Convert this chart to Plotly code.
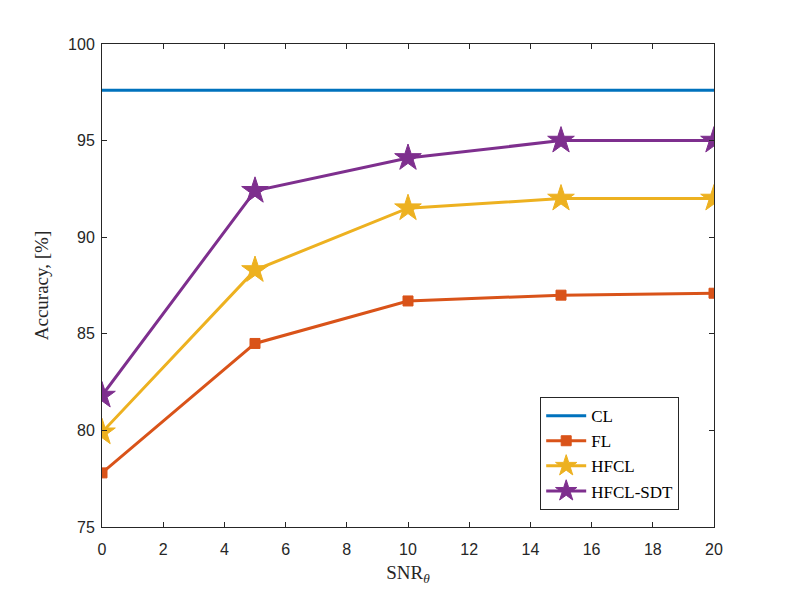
import plotly.graph_objects as go

snr = [0, 5, 10, 15, 20]
cl = [97.6, 97.6, 97.6, 97.6, 97.6]
fl = [77.8, 84.5, 86.7, 87.0, 87.1]
hfcl = [79.9, 88.3, 91.5, 92.0, 92.0]
hfcl_sdt = [81.8, 92.4, 94.1, 95.0, 95.0]

x_ticks = list(range(0, 21, 2))
y_ticks = [75, 80, 85, 90, 95, 100]

fig = go.Figure()
fig.add_trace(go.Scatter(x=snr, y=cl, mode="lines", name="CL",
                         line=dict(color="#0072BD", width=3)))
fig.add_trace(go.Scatter(x=snr, y=fl, mode="lines+markers", name="FL",
                         line=dict(color="#D95319", width=3),
                         marker=dict(symbol="square", size=10, color="#D95319",
                                     line=dict(color="#D95319", width=1))))
fig.add_trace(go.Scatter(x=snr, y=hfcl, mode="lines+markers", name="HFCL",
                         line=dict(color="#EDB120", width=3),
                         marker=dict(symbol="star", size=20, color="#EDB120",
                                     line=dict(color="#EDB120", width=1))))
fig.add_trace(go.Scatter(x=snr, y=hfcl_sdt, mode="lines+markers", name="HFCL-SDT",
                         line=dict(color="#7E2F8E", width=3),
                         marker=dict(symbol="star", size=20, color="#7E2F8E",
                                     line=dict(color="#7E2F8E", width=1))))

axis_common = dict(showgrid=False, zeroline=False, showline=True, linecolor="#262626",
                   linewidth=1, mirror="ticks", ticks="inside", ticklen=5,
                   tickcolor="#262626",
                   tickfont=dict(family="Liberation Sans, Arial", size=16, color="#262626"))

fig.update_xaxes(range=[0, 20], tickvals=x_ticks, ticklabelstandoff=8,
                 title=dict(text="SNR<sub><i>θ</i></sub>", standoff=8,
                            font=dict(family="Liberation Serif, DejaVu Serif", size=19, color="#262626")),
                 **axis_common)
fig.update_yaxes(range=[75, 100], tickvals=y_ticks, ticklabelstandoff=3,
                 title=dict(text="Accuracy, [%]", standoff=14,
                            font=dict(family="Liberation Serif, DejaVu Serif", size=19, color="#262626")),
                 **axis_common)

fig.update_layout(
    width=789, height=592,
    margin=dict(l=94, r=83, t=36, b=73),
    plot_bgcolor="white", paper_bgcolor="white",
    legend=dict(x=0.716, y=0.035, xanchor="left", yanchor="bottom",
                bgcolor="white", bordercolor="#262626", borderwidth=1,
                font=dict(family="Liberation Serif, DejaVu Serif", size=17, color="#000000"),
                tracegroupgap=0, itemwidth=40),
    showlegend=True,
)

fig.write_html("out.html")
